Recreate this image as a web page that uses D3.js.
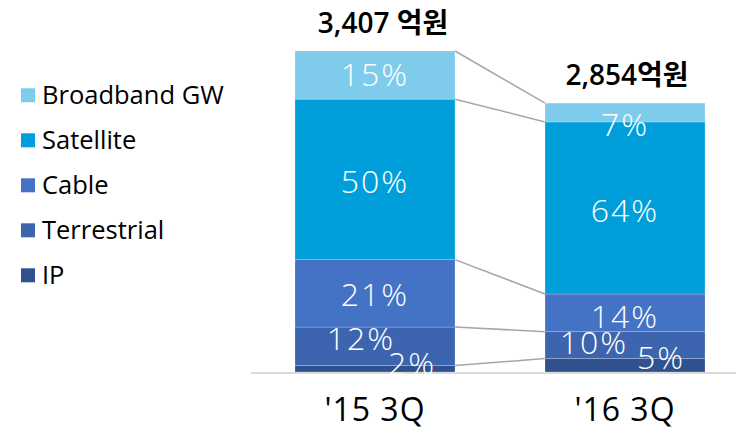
<!DOCTYPE html>
<html><head><meta charset="utf-8">
<script src="https://cdn.jsdelivr.net/npm/d3@7"></script>
<style>
html,body{margin:0;padding:0;background:#fff;}
svg{display:block;}
text{font-family:"Open Sans","Noto Sans CJK KR",sans-serif;}
</style></head>
<body>
<svg id="chart" width="738" height="429"></svg>
<script>
const categories = ["'15 3Q", "'16 3Q"];
const totals = [3407, 2854];
const totalLabels = ["3,407 억원", "2,854억원"];
const seriesNames = ["IP", "Terrestrial", "Cable", "Satellite", "Broadband GW"];
const ipPct = [2, 5];
const terrestrialPct = [12, 10];
const cablePct = [21, 14];
const satellitePct = [50, 64];
const broadbandPct = [15, 7];

const seriesPct = [ipPct, terrestrialPct, cablePct, satellitePct, broadbandPct];
const colors = ["#2f528f", "#3d64ae", "#4472c4", "#009fdb", "#7fcbec"];

// label nudges (layout only)
const labelNudge = [
  [[37, -6], [36, -9]],
  [[-14, -9], [-31, -4]],
  [[0, 0], [0, 3]],
  [[0, 1], [0, 2]],
  [[0, -2], [0, 11]]
];

const svg = d3.select("#chart");
const x = d3.scaleBand().domain(categories).range([250, 750]).paddingInner(0.36).paddingOuter(0.18);
const y = d3.scaleLinear().domain([0, 3407]).range([372, 51]);

const rows = categories.map((c, i) => {
  const r = {cat: c};
  seriesNames.forEach((s, k) => r[s] = totals[i] * seriesPct[k][i] / 100);
  return r;
});
const stacked = d3.stack().keys(seriesNames)(rows);

svg.append("line").attr("x1", 251).attr("x2", 736).attr("y1", 373).attr("y2", 373)
  .attr("stroke", "#d9d9d9").attr("stroke-width", 2);

const gConn = svg.append("g");
stacked.forEach(layer => {
  gConn.append("line")
    .attr("x1", x(categories[0]) + x.bandwidth()).attr("y1", y(layer[0][1]))
    .attr("x2", x(categories[1])).attr("y2", y(layer[1][1]))
    .attr("stroke", "#a6a6a6").attr("stroke-width", 1.5);
});

stacked.forEach((layer, k) => {
  svg.append("g").selectAll("rect").data(layer).join("rect")
    .attr("x", d => x(d.data.cat))
    .attr("y", d => y(d[1]))
    .attr("width", x.bandwidth())
    .attr("height", d => y(d[0]) - y(d[1]))
    .attr("fill", colors[k])
    .attr("stroke", "rgba(255,255,255,0.25)").attr("stroke-width", 0.8);
});

stacked.forEach((layer, k) => {
  svg.append("g").selectAll("text").data(layer).join("text")
    .attr("x", (d, i) => x(d.data.cat) + x.bandwidth() / 2 + labelNudge[k][i][0])
    .attr("y", (d, i) => (y(d[0]) + y(d[1])) / 2 + labelNudge[k][i][1])
    .attr("text-anchor", "middle").attr("dominant-baseline", "central")
    .attr("fill", "#fff").attr("font-size", 32).attr("font-weight", 300)
    .attr("letter-spacing", 2)
    .text((d, i) => seriesPct[k][i] + "%");
});

svg.append("g").selectAll("text").data(categories).join("text")
  .attr("x", (c, i) => x(c) + x.bandwidth() / 2 + (i === 0 ? 8 : 2))
  .attr("y", (c, i) => y(totals[i]) - 18)
  .attr("text-anchor", "middle").attr("font-size", 28).attr("font-weight", 600)
  .attr("fill", "#000")
  .text((c, i) => totalLabels[i]);

svg.append("g").selectAll("text").data(categories).join("text")
  .attr("x", c => x(c) + x.bandwidth() / 2)
  .attr("y", 421)
  .attr("text-anchor", "middle").attr("font-size", 32).attr("letter-spacing", 1)
  .attr("fill", "#000")
  .text(c => c);

const legendOrder = [4, 3, 2, 1, 0];
const lg = svg.append("g");
legendOrder.forEach((k, j) => {
  const cy = 95.3 + j * 45;
  lg.append("rect").attr("x", 21).attr("y", cy - 7).attr("width", 14).attr("height", 14).attr("fill", colors[k]);
  lg.append("text").attr("x", 42).attr("y", cy + 8.5).attr("font-size", 25.5)
    .attr("fill", "#000")
    .text(seriesNames[k]);
});
</script>
</body></html>
